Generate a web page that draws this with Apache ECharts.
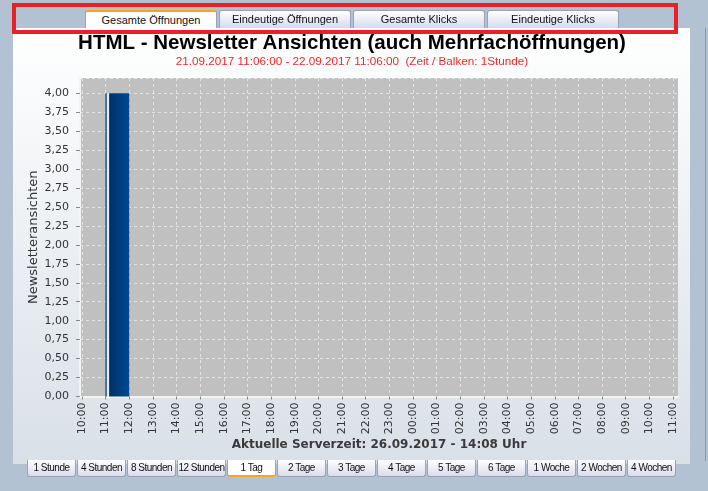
<!DOCTYPE html>
<html>
<head>
<meta charset="utf-8">
<script src="https://cdn.jsdelivr.net/npm/echarts@6/dist/echarts.min.js"></script>
<style>
html,body{margin:0;padding:0;width:708px;height:491px;overflow:hidden;background:#b3c2d2;font-family:'Liberation Sans',Arial,sans-serif;}
#panel{position:absolute;left:13px;top:28px;width:677px;height:436px;background:linear-gradient(#ffffff,#d9e0e7);}
#rline{position:absolute;left:705px;top:28px;width:1px;height:433px;background:#8a98a8;}
#chart{position:absolute;left:0;top:0;width:708px;height:491px;}
#redbox{position:absolute;left:12px;top:3px;width:666px;height:31px;box-sizing:border-box;border:4px solid #e8202a;pointer-events:none;z-index:3;}
.tab{position:absolute;top:10px;height:18px;width:132px;box-sizing:border-box;border:1px solid #98a2b6;border-bottom:none;border-radius:3px 3px 0 0;background:linear-gradient(#ffffff,#d6daec);font-size:11px;line-height:17px;text-align:center;color:#111;z-index:2;white-space:nowrap;}
.tab.active{background:#fff;border-top:2px solid #f5a51e;line-height:16px;}
.btn{position:absolute;top:460px;height:17px;width:49px;box-sizing:border-box;border:1px solid #9ba4b6;border-top:none;border-radius:0 0 3px 3px;background:linear-gradient(#ffffff,#d9dcec);font-size:10px;letter-spacing:-0.5px;line-height:16px;text-align:center;color:#111;z-index:2;white-space:nowrap;overflow:hidden;}
.btn.active{background:#fff;border-bottom:2px solid #f5a51e;line-height:15px;}
</style>
</head>
<body>
<div id="panel"></div>
<div id="chart"></div>
<div id="rline"></div>
<div id="redbox"></div>
<div id="tabs"></div>
<div id="btns"></div>
<script>
// ---- data ----
const titleText = 'HTML - Newsletter Ansichten (auch Mehrfachöffnungen)';
const subtitleText = '21.09.2017 11:06:00 - 22.09.2017 11:06:00  (Zeit / Balken: 1Stunde)';
const yAxisName = 'Newsletteransichten';
const xAxisName = 'Aktuelle Serverzeit: 26.09.2017 - 14:08 Uhr';
const tickLabels = ['10:00','11:00','12:00','13:00','14:00','15:00','16:00','17:00','18:00','19:00','20:00','21:00','22:00','23:00',
                    '00:00','01:00','02:00','03:00','04:00','05:00','06:00','07:00','08:00','09:00','10:00','11:00'];
const barStarts = ['11:00','12:00','13:00','14:00','15:00','16:00','17:00','18:00','19:00','20:00','21:00','22:00','23:00',
                   '00:00','01:00','02:00','03:00','04:00','05:00','06:00','07:00','08:00','09:00','10:00'];
const barValues = [4,0,0,0,0,0,0,0,0,0,0,0,0,0,0,0,0,0,0,0,0,0,0,0];
const tabLabels = ['Gesamte Öffnungen','Eindeutige Öffnungen','Gesamte Klicks','Eindeutige Klicks'];
const rangeLabels = ['1 Stunde','4 Stunden','8 Stunden','12 Stunden','1 Tag','2 Tage','3 Tage','4 Tage','5 Tage','6 Tage','1 Woche','2 Wochen','4 Wochen'];
const activeTab = 0;
const activeRange = 4;

// ---- chrome ----
const tabs = document.getElementById('tabs');
tabLabels.forEach((t, i) => {
  const d = document.createElement('div');
  d.className = 'tab' + (i === activeTab ? ' active' : '');
  d.style.left = (85 + i * 134) + 'px';
  d.textContent = t;
  tabs.appendChild(d);
});
const btns = document.getElementById('btns');
rangeLabels.forEach((t, i) => {
  const d = document.createElement('div');
  d.className = 'btn' + (i === activeRange ? ' active' : '');
  d.style.left = (27 + i * 50) + 'px';
  d.textContent = t;
  btns.appendChild(d);
});

// ---- chart ----
const firstBarTick = tickLabels.indexOf(barStarts[0]);
const seriesData = barValues.map((v, i) => [firstBarTick + i, v]);
const yMax = 4.2;
const gridPos = {top: 78, bottom: 94.5};
const dash = {color: '#e2e2e2', type: [3, 3], width: 1};

const chart = echarts.init(document.getElementById('chart'), null, {renderer: 'canvas'});
chart.setOption({
  backgroundColor: 'transparent',
  animation: false,
  title: [
    {text: titleText, left: 352, top: 33, textAlign: 'center', padding: 0,
     textStyle: {fontFamily: 'Liberation Sans', fontWeight: 'bold', fontSize: 20.5, color: '#000'}},
    {text: subtitleText, left: 352, top: 56, textAlign: 'center', padding: 0,
     textStyle: {fontFamily: 'Liberation Sans', fontWeight: 'normal', fontSize: 11.7, color: '#ee2a2a'}}
  ],
  grid: [
    {left: 80, right: 30, top: gridPos.top, bottom: gridPos.bottom, show: true, backgroundColor: '#c0c0c0', borderWidth: 0},
    {left: 82, right: 35, top: gridPos.top, bottom: gridPos.bottom}
  ],
  xAxis: [
    {gridIndex: 0, type: 'value', min: 0, max: 1, offset: 1,
     axisLine: {show: true, lineStyle: {color: '#f4f4f4', width: 2}},
     axisTick: {show: false}, axisLabel: {show: false}, splitLine: {show: false},
     name: xAxisName, nameLocation: 'middle', nameGap: 41, nameMoveOverlap: false,
     nameTextStyle: {fontFamily: 'DejaVu Sans', fontWeight: 'bold', fontSize: 12, color: '#3a3a3a'}},
    {gridIndex: 1, type: 'value', min: 0, max: tickLabels.length - 1, interval: 1,
     axisLine: {show: false},
     axisTick: {show: true, length: 3, lineStyle: {color: '#888'}},
     axisLabel: {rotate: 90, margin: 6, fontFamily: 'DejaVu Sans', fontSize: 11, color: '#333',
                 formatter: v => tickLabels[Math.round(v)] || ''},
     splitLine: {show: true, lineStyle: dash}}
  ],
  yAxis: [
    {gridIndex: 0, type: 'value', min: 0, max: yMax, interval: 0.25, offset: 2,
     axisLine: {show: true, lineStyle: {color: '#f4f4f4', width: 2}},
     axisTick: {show: true, length: 4, lineStyle: {color: '#888'}},
     axisLabel: {margin: 9, fontFamily: 'DejaVu Sans', fontSize: 11, color: '#333', showMaxLabel: false,
                 formatter: v => v.toFixed(2).replace('.', ',')},
     splitLine: {show: true, lineStyle: dash},
     name: yAxisName, nameLocation: 'middle', nameGap: 38, nameRotate: 90, nameMoveOverlap: false,
     nameTextStyle: {fontFamily: 'DejaVu Sans', fontSize: 13, color: '#333'}},
    {gridIndex: 1, type: 'value', min: 0, max: yMax, show: false, splitLine: {show: false}}
  ],
  series: [{
    type: 'custom', xAxisIndex: 1, yAxisIndex: 1, data: seriesData,
    renderItem: function (params, api) {
      const v = api.value(1);
      if (!v) return null;
      const s = api.value(0);
      const pTop = api.coord([s, v]);
      const pEnd = api.coord([s + 1, 0]);
      const x0 = pTop[0], x1 = pEnd[0], yTop = pTop[1], h = pEnd[1] - pTop[1];
      return {type: 'group', children: [
        {type: 'rect', shape: {x: x0 - 0.5, y: yTop, width: 2, height: h}, style: {fill: '#3d6d9f'}},
        {type: 'rect', shape: {x: x0 + 1.5, y: yTop, width: 2, height: h}, style: {fill: '#eef1f4'}},
        {type: 'rect', shape: {x: x0 + 3.5, y: yTop, width: x1 - x0 - 3.5, height: h},
         style: {fill: new echarts.graphic.LinearGradient(0, 0, 1, 0, [
           {offset: 0, color: '#002f66'}, {offset: 1, color: '#004a92'}])}}
      ]};
    }
  }]
});
</script>
</body>
</html>
